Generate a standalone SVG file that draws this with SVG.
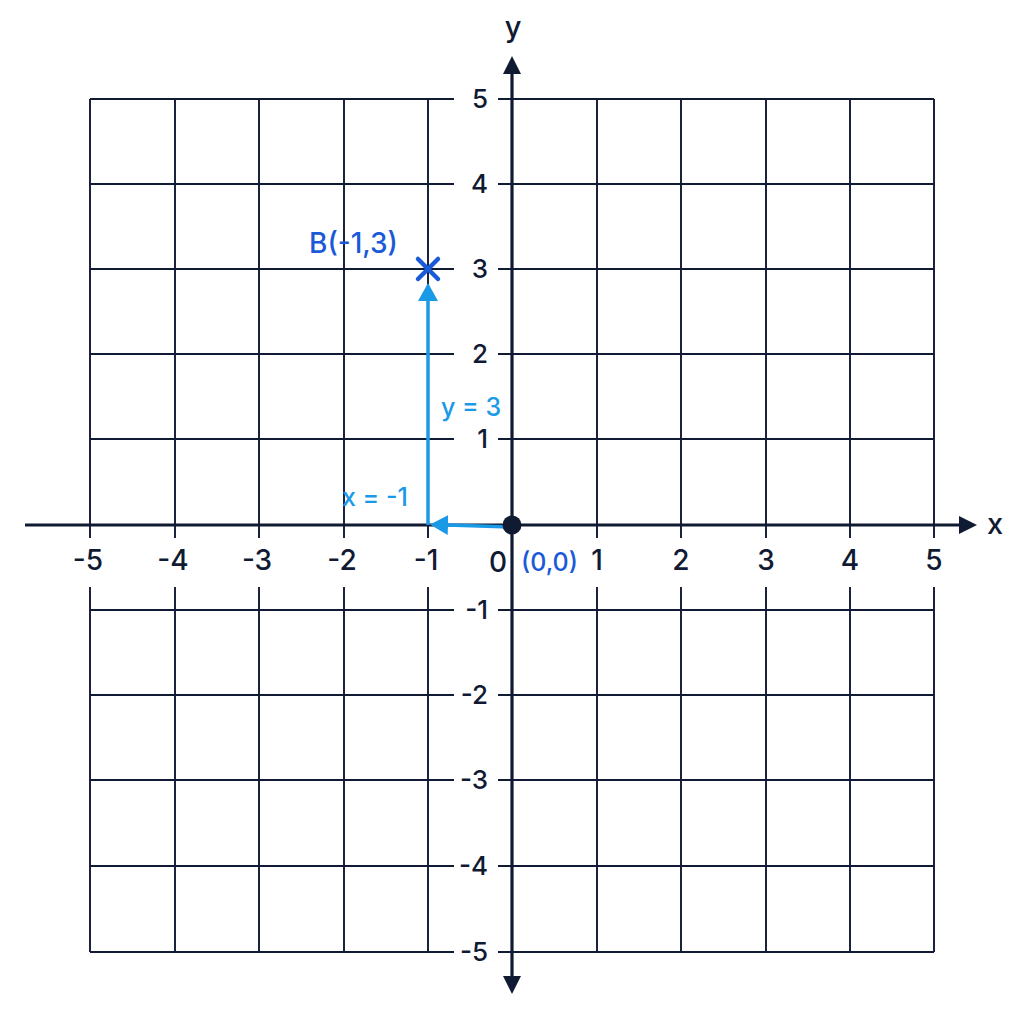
<svg xmlns="http://www.w3.org/2000/svg" width="1024" height="1024" viewBox="0 0 1024 1024">
<defs>
<style>
.grid{stroke:#101a33;stroke-width:1.9;fill:none}
.axis{stroke:#101a33;stroke-width:3.2;fill:none}
.lbl{font-family:Inter,"Liberation Sans",sans-serif;fill:#101a33;font-weight:500}
.xl{font-size:28px;text-anchor:middle}
.yl{font-size:26px;text-anchor:end}
.path{stroke:#1a9ae6;stroke-width:3.5;fill:none}
.dark{fill:#1a5ad8}
.light{fill:#1a9ae6}
</style>
<marker id="axhead" viewBox="0 0 18 18" refX="0" refY="9" markerWidth="18" markerHeight="18" markerUnits="userSpaceOnUse" orient="auto">
<path d="M0,0 L18,9 L0,18 Z" fill="#101a33"/>
</marker>
<marker id="bhead" viewBox="0 0 20 20" refX="0" refY="10" markerWidth="20" markerHeight="20" markerUnits="userSpaceOnUse" orient="auto">
<path d="M0,0 L18,10 L0,20 Z" fill="#1a9ae6"/>
</marker>
</defs>
<rect width="1024" height="1024" fill="#ffffff"/>
<g id="grid" class="grid">
<path d="M90,99V538M90,587V952M175,99V538M175,587V952M259,99V538M259,587V952M344,99V538M344,587V952M428,99V538M428,587V952M597,99V538M597,587V952M681,99V538M681,587V952M766,99V538M766,587V952M850,99V538M850,587V952M934,99V538M934,587V952"/>
<path d="M90,99H454M498,99H934M90,184H454M498,184H934M90,269H454M498,269H934M90,354H454M498,354H934M90,439H454M498,439H934M90,610H454M498,610H934M90,695H454M498,695H934M90,780H454M498,780H934M90,866H454M498,866H934M90,952H454M498,952H934"/>
</g>
<g id="axes">
<line class="axis" x1="25" y1="525" x2="959" y2="525" marker-end="url(#axhead)"/>
<line class="axis" x1="512" y1="525" x2="512" y2="74" marker-end="url(#axhead)"/>
<line class="axis" x1="512" y1="525" x2="512" y2="976" marker-end="url(#axhead)"/>
<text class="lbl" x="995" y="534" font-size="29" font-weight="400" text-anchor="middle">x</text>
<text class="lbl" x="513" y="37" font-size="29" font-weight="400" text-anchor="middle">y</text>
</g>
<g id="x-labels" class="lbl xl">
<text x="88" y="570">-5</text>
<text x="173" y="570">-4</text>
<text x="257" y="570">-3</text>
<text x="342" y="570">-2</text>
<text x="426" y="570">-1</text>
<text x="498" y="572">0</text>
<text x="597" y="570">1</text>
<text x="681" y="570">2</text>
<text x="766" y="570">3</text>
<text x="850" y="570">4</text>
<text x="934" y="570">5</text>
</g>
<g id="y-labels" class="lbl yl">
<text x="488" y="108">5</text>
<text x="488" y="193">4</text>
<text x="488" y="278">3</text>
<text x="488" y="363">2</text>
<text x="488" y="448">1</text>
<text x="488" y="619">-1</text>
<text x="488" y="704">-2</text>
<text x="488" y="789">-3</text>
<text x="488" y="875">-4</text>
<text x="488" y="961">-5</text>
</g>
<g id="connectors">
<line class="path" x1="510" y1="527" x2="448" y2="525" marker-end="url(#bhead)"/>
<line class="path" x1="428" y1="525" x2="428" y2="301" marker-end="url(#bhead)"/>
</g>
<g id="origin">
<circle cx="512" cy="525" r="9.5" fill="#101a33"/>
<text class="lbl dark" x="521" y="571" font-size="25">(0,0)</text>
</g>
<g id="point-B">
<path d="M418,259L438,279M438,259L418,279" stroke="#1a5ad8" stroke-width="4.5" stroke-linecap="round"/>
<text class="lbl dark" x="309" y="253" font-size="28">B(-1,3)</text>
</g>
<g id="label-y3">
<text class="lbl light" x="441" y="416" font-size="25">y = 3</text>
</g>
<g id="label-x1">
<text class="lbl light" x="342" y="506" font-size="25">x = -1</text>
</g>
</svg>
